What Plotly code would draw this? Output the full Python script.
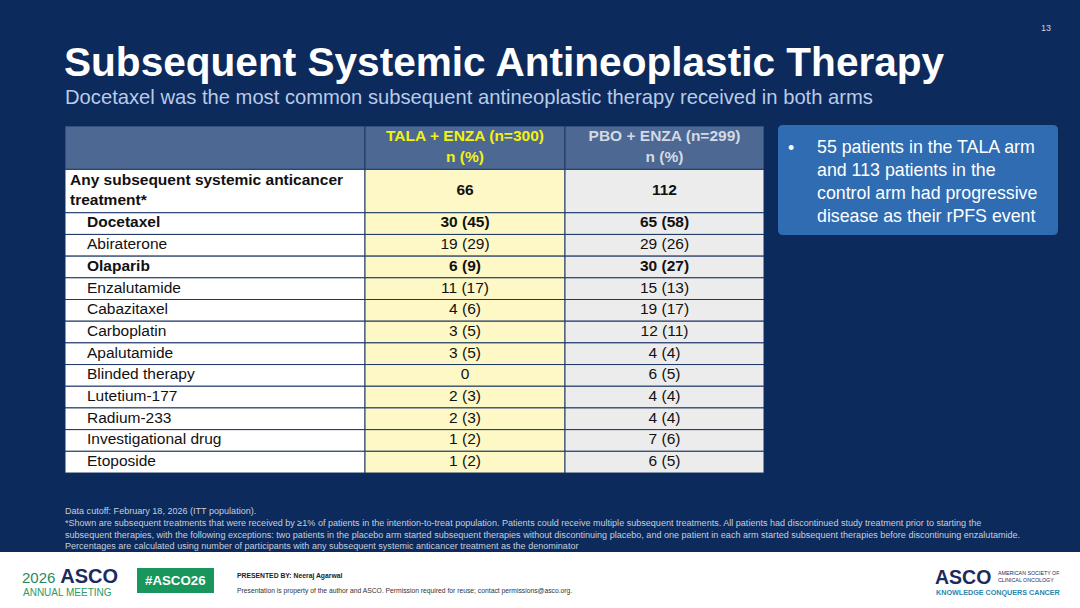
import plotly.graph_objects as go

W, H = 1080, 608

# ---------------- data ----------------
therapies = [
    "Any subsequent systemic anticancer<br>treatment*",
    "Docetaxel", "Abiraterone", "Olaparib", "Enzalutamide", "Cabazitaxel",
    "Carboplatin", "Apalutamide", "Blinded therapy", "Lutetium-177",
    "Radium-233", "Investigational drug", "Etoposide",
]
tala_n = [66, 30, 19, 6, 11, 4, 3, 3, 0, 2, 2, 1, 1]
tala_pct = [None, 45, 29, 9, 17, 6, 5, 5, None, 3, 3, 2, 2]
pbo_n = [112, 65, 29, 30, 15, 19, 12, 4, 6, 4, 4, 7, 6]
pbo_pct = [None, 58, 26, 27, 13, 17, 11, 4, 5, 4, 4, 6, 5]
bold_rows = [0, 1, 3]
header_labels = ["", "TALA + ENZA (n=300)<br>n (%)", "PBO + ENZA (n=299)<br>n (%)"]

title = "Subsequent Systemic Antineoplastic Therapy"
subtitle = "Docetaxel was the most common subsequent antineoplastic therapy received in both arms"
callout = ("55 patients in the TALA arm<br>and 113 patients in the<br>"
           "control arm had progressive<br>disease as their rPFS event")
footnote = ("Data cutoff: February 18, 2026 (ITT population).<br>"
            "*Shown are subsequent treatments that were received by ≥1% of patients in the intention-to-treat population. "
            "Patients could receive multiple subsequent treatments. All patients had discontinued study treatment prior to starting the<br>"
            "subsequent therapies, with the following exceptions: two patients in the placebo arm started subsequent therapies without "
            "discontinuing placebo, and one patient in each arm started subsequent therapies before discontinuing enzalutamide.<br>"
            "Percentages are calculated using number of participants with any subsequent systemic anticancer treatment as the denominator")

# ---------------- styling / layout constants ----------------
NAVY = "#0c2a5b"
FONT = "Liberation Sans, Arial, sans-serif"
col_edges = [0, 300, 500, 699]            # table x-axis units (px wide)
col_fill = ["#ffffff", "#fdf8c6", "#ececec"]
header_fill = "#4d6893"
header_colors = ["white", "#f4f20c", "#d3dae4"]
border = "#1d3867"
TFS = 15.5


def fmt(n, p):
    return f"{n}" if p is None else f"{n} ({p})"


def b(s, i):
    return f"<b>{s}</b>" if i in bold_rows else s


col0 = [b(t, i) for i, t in enumerate(therapies)]
col1 = [b(fmt(n, p), i) for i, (n, p) in enumerate(zip(tala_n, tala_pct))]
col2 = [b(fmt(n, p), i) for i, (n, p) in enumerate(zip(pbo_n, pbo_pct))]

# row spans in "line" units, derived from the number of text lines
header_span = max(h.count("<br>") + 1 for h in header_labels)
row_span = [t.count("<br>") + 1 for t in therapies]
row_top = []
acc = header_span
for s in row_span:
    row_top.append(acc)
    acc += s
total_units = acc
row_mid = [t + s / 2 for t, s in zip(row_top, row_span)]


def px(x):
    return x / W


def py(y):
    return 1 - y / H


fig = go.Figure()

shapes = []
# header cells
for c in range(3):
    shapes.append(dict(type="rect", xref="x", yref="y", x0=col_edges[c], x1=col_edges[c + 1],
                       y0=0, y1=header_span, fillcolor=header_fill, line=dict(color=border, width=1),
                       layer="below"))
# body cells
for r in range(len(therapies)):
    for c in range(3):
        shapes.append(dict(type="rect", xref="x", yref="y", x0=col_edges[c], x1=col_edges[c + 1],
                           y0=row_top[r], y1=row_top[r] + row_span[r], fillcolor=col_fill[c],
                           line=dict(color=border, width=1), layer="below"))

# table texts
indent = [5 if i == 0 else 22 for i in range(len(therapies))]
fig.add_trace(go.Scatter(x=indent, y=row_mid, text=col0, mode="text", textposition="middle right",
                         textfont=dict(family=FONT, size=TFS, color="#111111"), hoverinfo="skip"))
for c, col in ((1, col1), (2, col2)):
    xc = (col_edges[c] + col_edges[c + 1]) / 2
    fig.add_trace(go.Scatter(x=[xc] * len(col), y=row_mid, text=col, mode="text", textposition="middle center",
                             textfont=dict(family=FONT, size=TFS, color="#111111"), hoverinfo="skip"))
fig.add_trace(go.Scatter(x=[(col_edges[c] + col_edges[c + 1]) / 2 for c in (1, 2)],
                         y=[header_span / 2] * 2,
                         text=[f"<b>{h}</b>" for h in header_labels[1:]],
                         mode="text", textposition="middle center",
                         textfont=dict(family=FONT, size=TFS, color=header_colors[1:]), hoverinfo="skip"))

# white bottom band
shapes.append(dict(type="rect", xref="paper", yref="paper", x0=0, x1=1, y0=0, y1=py(552),
                   fillcolor="white", line=dict(width=0), layer="below"))
# #ASCO26 green box
shapes.append(dict(type="rect", xref="paper", yref="paper", x0=px(137), x1=px(214),
                   y0=py(593), y1=py(568), fillcolor="#18965c", line=dict(width=0)))


def rounded(x0, y0, x1, y1, r):
    return (f"M {px(x0 + r)},{py(y0)} L {px(x1 - r)},{py(y0)} Q {px(x1)},{py(y0)} {px(x1)},{py(y0 + r)} "
            f"L {px(x1)},{py(y1 - r)} Q {px(x1)},{py(y1)} {px(x1 - r)},{py(y1)} "
            f"L {px(x0 + r)},{py(y1)} Q {px(x0)},{py(y1)} {px(x0)},{py(y1 - r)} "
            f"L {px(x0)},{py(y0 + r)} Q {px(x0)},{py(y0)} {px(x0 + r)},{py(y0)} Z")


shapes.append(dict(type="path", xref="paper", yref="paper", path=rounded(778, 125, 1058, 235, 5),
                   fillcolor="#2f6cb2", line=dict(width=0)))

ann = []


def text(x, y, s, size, color, xanchor="left", yanchor="middle", bold=False, align="left"):
    ann.append(dict(x=px(x), y=py(y), xref="paper", yref="paper", text=f"<b>{s}</b>" if bold else s,
                    showarrow=False, xanchor=xanchor, yanchor=yanchor, align=align,
                    font=dict(family=FONT, size=size, color=color)))


text(1046, 28, "13", 9, "#c9d3e3", xanchor="center")
text(62, 62, title, 40.6, "white", bold=True)
text(63, 97, subtitle, 20.2, "#b9cbe8")
text(786, 148, "•", 17.8, "white")
text(815, 181, callout, 17.8, "white")
text(63, 528, footnote, 9.05, "#c6cedb")

# bottom band logos / texts
ann.append(dict(x=px(20), y=py(576), xref="paper", yref="paper", showarrow=False, xanchor="left",
                yanchor="middle",
                text="<span style='color:#1f8a5a;font-size:15px'>2026</span>"
                     "<b><span style='color:#1d2a5e;font-size:20px'> ASCO</span></b>",
                font=dict(family=FONT, size=18)))
text(21, 592, "ANNUAL MEETING", 10, "#2b9a64")
text(175.5, 580.5, "#ASCO26", 13.3, "white", xanchor="center", bold=True)
text(235, 576, "PRESENTED BY: Neeraj Agarwal", 6.8, "#222222", bold=True)
text(235, 591, "Presentation is property of the author and ASCO. Permission required for reuse; contact permissions@asco.org.",
     6.75, "#333333")
text(933, 577, "ASCO", 19.5, "#1d2a5e", bold=True)
text(996, 576, "AMERICAN SOCIETY OF<br>CLINICAL ONCOLOGY", 5.3, "#1d2a5e")
text(934, 592.5, "KNOWLEDGE CONQUERS CANCER", 7.2, "#2a86ad", bold=True)

fig.update_layout(
    width=W, height=H,
    margin=dict(l=0, r=0, t=0, b=0),
    paper_bgcolor=NAVY, plot_bgcolor="rgba(0,0,0,0)",
    shapes=shapes, annotations=ann,
    showlegend=False,
    xaxis=dict(range=[col_edges[0], col_edges[-1]], domain=[px(65), px(764)], visible=False, fixedrange=True),
    yaxis=dict(range=[total_units, 0], domain=[py(473), py(126)], visible=False, fixedrange=True),
)

fig.write_html("out.html", config={"displayModeBar": False},
               post_script="document.body.style.margin='0';document.body.style.overflow='hidden';")
